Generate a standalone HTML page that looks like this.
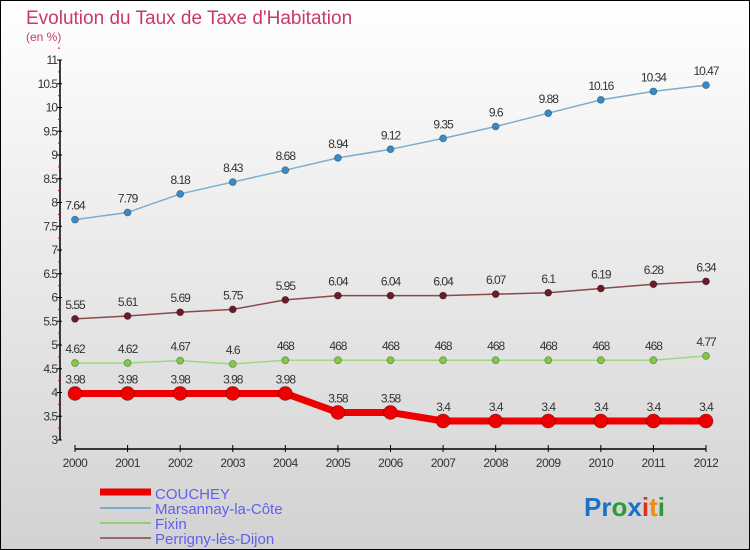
<!DOCTYPE html>
<html><head><meta charset="utf-8"><style>
body{margin:0;width:750px;height:550px;overflow:hidden;font-family:"Liberation Sans",sans-serif}
svg{display:block}
</style></head><body>
<svg id="chart" width="750" height="550" xmlns="http://www.w3.org/2000/svg">
<defs><linearGradient id="bg" x1="0" y1="0" x2="0" y2="1"><stop offset="0" stop-color="#ffffff"/><stop offset="1" stop-color="#d2d2d2"/></linearGradient></defs>
<rect x="0.5" y="0.5" width="749" height="549" fill="url(#bg)" stroke="#000"/>
<text x="26" y="24" font-size="19" fill="#c8386a">Evolution du Taux de Taxe d'Habitation</text>
<text x="26" y="41" font-size="12" fill="#c8386a">(en %)</text>
<g id="axes"></g>
<g id="series"></g>
<g>
<line x1="100" y1="492" x2="151" y2="492" stroke="#e00" stroke-width="7"/>
<text x="155" y="499" font-size="15" fill="#6060ee">COUCHEY</text>
<line x1="100" y1="508" x2="151" y2="508" stroke="#7aaed0" stroke-width="2"/>
<text x="155" y="514" font-size="15" fill="#6060ee">Marsannay-la-Côte</text>
<line x1="100" y1="523" x2="151" y2="523" stroke="#90d070" stroke-width="2"/>
<text x="155" y="529" font-size="15" fill="#6060ee">Fixin</text>
<line x1="100" y1="538" x2="151" y2="538" stroke="#9a6a6a" stroke-width="2"/>
<text x="155" y="544" font-size="15" fill="#6060ee">Perrigny-lès-Dijon</text>
</g>
<text x="584" y="516" font-size="26" font-weight="bold"><tspan fill="#1a72c8">Pr</tspan><tspan fill="#2a9a3a">o</tspan><tspan fill="#1a72c8">x</tspan><tspan fill="#e0301a">i</tspan><tspan fill="#f08a10">t</tspan><tspan fill="#2a9a3a">i</tspan></text>
</svg>
<script>
const years=[2000,2001,2002,2003,2004,2005,2006,2007,2008,2009,2010,2011,2012];
const couchey=[3.98,3.98,3.98,3.98,3.98,3.58,3.58,3.4,3.4,3.4,3.4,3.4,3.4];
const marsannay=[7.64,7.79,8.18,8.43,8.68,8.94,9.12,9.35,9.6,9.88,10.16,10.34,10.47];
const fixin=[4.62,4.62,4.67,4.6,4.68,4.68,4.68,4.68,4.68,4.68,4.68,4.68,4.77];
const perrigny=[5.55,5.61,5.69,5.75,5.95,6.04,6.04,6.04,6.07,6.1,6.19,6.28,6.34];
const yTicks=[3,3.5,4,4.5,5,5.5,6,6.5,7,7.5,8,8.5,9,9.5,10,10.5,11];
const labelsMars=["7.64","7.79","8.18","8.43","8.68","8.94","9.12","9.35","9.6","9.88","10.16","10.34","10.47"];
const labelsFixin=["4.62","4.62","4.67","4.6","468","468","468","468","468","468","468","468","4.77"];
const NS="http://www.w3.org/2000/svg";
const X=i=>75+i*(706-75)/(years.length-1);
const Y=v=>440-(v-3)*47.5;
function mk(tag,attrs,parent){const e=document.createElementNS(NS,tag);for(const k in attrs)e.setAttribute(k,attrs[k]);parent.appendChild(e);return e;}
const ax=document.getElementById('axes');
const yl=mk('line',{x1:60,y1:Y(11),x2:60,y2:Y(3),stroke:'#000','stroke-width':1.5},ax);


yTicks.forEach(t=>{
  mk('line',{x1:57,y1:Y(t),x2:62,y2:Y(t),stroke:'#000'},ax);
  mk('line',{x1:58,y1:Y(t+0.25),x2:60,y2:Y(t+0.25),stroke:'#e00'},ax);
  const tx=mk('text',{x:57,y:Y(t)+4,'font-size':12,fill:'#333','text-anchor':'end','letter-spacing':'-1'},ax);
  
  
  tx.textContent=t;
});
const xl=mk('line',{x1:X(0),y1:449,x2:X(12),y2:449,stroke:'#000','stroke-width':1.5},ax);


years.forEach((yr,i)=>{
  mk('line',{x1:X(i),y1:445,x2:X(i),y2:452,stroke:'#000'},ax);
  const tx=mk('text',{x:X(i),y:467,'font-size':12,fill:'#333','text-anchor':'middle','letter-spacing':'-0.5'},ax);
  
  
  tx.textContent=yr;
});
const sg=document.getElementById('series');
function series(vals,labels,color,dot,w,r,name){
  const g=mk('g',{},sg);
  
  
  mk('polyline',{points:vals.map((v,i)=>X(i)+','+Y(v)).join(' '),fill:'none',stroke:color,'stroke-width':w,'stroke-linejoin':'round'},g);
  vals.forEach((v,i)=>{
    const c=mk('circle',{cx:X(i),cy:Y(v),r:r,fill:dot,stroke:'rgba(0,0,0,0.35)','stroke-width':0.8},g);
    
    
    const t=mk('text',{x:X(i),y:Y(v)-10,'font-size':12,fill:'#333','text-anchor':'middle','letter-spacing':'-1'},g);
    
    
    t.textContent=labels?labels[i]:String(v);
  });
}
series(marsannay,labelsMars,'#7aaed0','#3a8ac8',1.5,3.5,'series-marsannay');
series(perrigny,null,'#8a4a4a','#6a1a2a',1.5,3.5,'series-perrigny');
series(fixin,labelsFixin,'#a0d880','#80cc40',1.5,3.5,'series-fixin');
series(couchey,null,'#ee0000','#ee0000',7,7,'series-couchey');
</script>
</body></html>
